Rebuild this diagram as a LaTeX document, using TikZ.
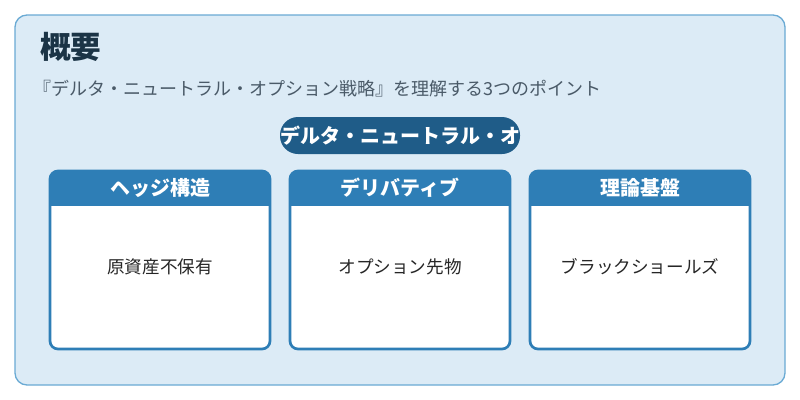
\documentclass[tikz,border=0pt]{standalone}
\usepackage{fontspec}
\setmainfont{Noto Sans CJK JP}
\definecolor{bg}{HTML}{DCEBF6}
\definecolor{bd}{HTML}{6AAAD4}
\definecolor{hd}{HTML}{2E7EB6}
\definecolor{pill}{HTML}{1F5C88}
\definecolor{ttl}{HTML}{1B3446}
\definecolor{sub}{HTML}{4A5A68}
\begin{document}
\begin{tikzpicture}[x=0.75pt,y=-0.75pt,
  card/.style={draw=hd,line width=2pt,fill=white,rounded corners=6pt},
  head/.style={text=white,font=\bfseries\fontsize{15}{17}\selectfont},
  body/.style={text=black!85,font=\fontsize{13.2}{15}\selectfont}]
\useasboundingbox (0,0) rectangle (800,400);
\fill[white] (0,0) rectangle (800,400);
\draw[bd,fill=bg,line width=1pt,rounded corners=9pt] (15,15) rectangle (785,385);
\node[anchor=west,text=ttl,font=\bfseries\fontsize{23}{26}\selectfont,inner sep=0pt] (t) at (40,47) {概要};
\node[anchor=west,text=sub,font=\fontsize{13.5}{16}\selectfont,inner sep=0pt] (s) at (33,89) {『デルタ・ニュートラル・オプション戦略』を理解する3つのポイント};
\fill[pill,rounded corners=13.5pt] (280,117) rectangle (520,154);
\node[text=white,font=\bfseries\fontsize{15}{17}\selectfont] (p) at (400,135.5) {デルタ・ニュートラル・オ};
\foreach \x/\h/\b/\n in {50/ヘッジ構造/原資産不保有/a,290/デリバティブ/オプション先物/b,530/理論基盤/ブラックショールズ/c}{
  \draw[card] (\x,171) rectangle ++(220,178);
  \begin{scope}
  \clip[rounded corners=6pt] (\x,171) rectangle ++(220,178);
  \fill[hd] (\x,171) rectangle ++(220,35);
  \end{scope}
  \node[head] (h\n) at (\x+110,188) {\h};
  \node[body] (b\n) at (\x+110,267) {\b};
}
\end{tikzpicture}
\end{document}
